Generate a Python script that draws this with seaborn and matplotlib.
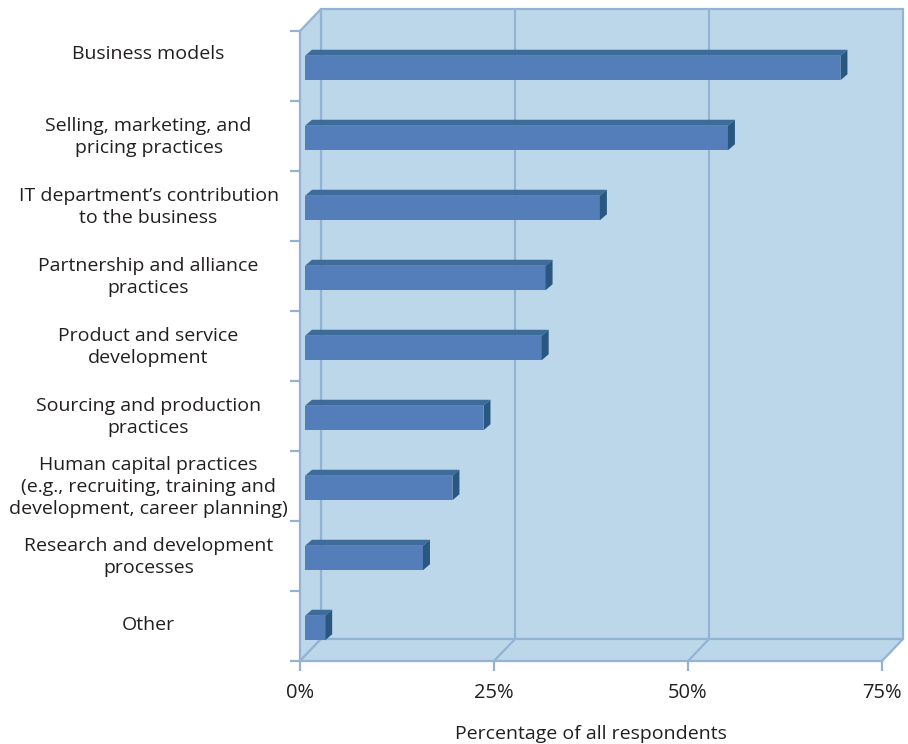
import matplotlib
matplotlib.use("Agg")
import matplotlib.pyplot as plt
import matplotlib.transforms as mtransforms
from matplotlib.patches import Polygon
from matplotlib.lines import Line2D
import seaborn as sns
import pandas as pd

categories = [
    "Business models",
    "Selling, marketing, and\npricing practices",
    "IT department\u2019s contribution\nto the business",
    "Partnership and alliance\npractices",
    "Product and service\ndevelopment",
    "Sourcing and production\npractices",
    "Human capital practices\n(e.g., recruiting, training and\ndevelopment, career planning)",
    "Research and development\nprocesses",
    "Other",
]
values = [69, 54.5, 38, 31, 30.5, 23, 19, 15.2, 2.6]
xticks = [0, 25, 50, 75]
xticklabels = ["0%", "25%", "50%", "75%"]
xlabel = "Percentage of all respondents"

WALL = "#bcd7e9"
EDGE = "#93b3d5"
FRONT = "#537eb9"
TOP = "#3e6c9a"
SIDE = "#2a577f"
TEXT = "#231f20"
FS = 14

sns.set_theme(style="white")
plt.rcParams["font.family"] = ["Open Sans", "DejaVu Sans"]

W, H = 908, 744
fig = plt.figure(figsize=(W / 100, H / 100), dpi=100)
L, R, T, B = 300, 882, 31, 661
ax = fig.add_axes([L / W, (H - B) / H, (R - L) / W, (B - T) / H])
ax.set_facecolor("none")

df = pd.DataFrame({"cat": categories, "val": values})
sns.barplot(data=df, x="val", y="cat", orient="h", color=FRONT, width=0.35,
            saturation=1, ax=ax, zorder=5)
ax.set_xlim(0, 75)
ax.set_ylim(len(categories) - 0.5, -0.5)


def off(dx, dy):
    return ax.transData + mtransforms.ScaledTranslation(dx / 100, dy / 100, fig.dpi_scale_trans)


DX, DY = 21, 22  # back wall offset in px
back = off(DX, DY)
y0, y1 = len(categories) - 0.5, -0.5
finv = fig.transFigure.inverted()


def poly(pts_tr, fc, ec, z):
    disp = [off(dx, dy).transform((x, y)) for x, y, dx, dy in pts_tr]
    fpts = [finv.transform(p) for p in disp]
    p = Polygon(fpts, closed=True, transform=fig.transFigure, facecolor=fc,
                edgecolor=ec, lw=1.6, zorder=z)
    fig.add_artist(p)
    return p

# back wall
poly([(0, y0, DX, DY), (75, y0, DX, DY), (75, y1, DX, DY), (0, y1, DX, DY)], WALL, EDGE, 0)
# left wall
poly([(0, y0, 0, 0), (0, y1, 0, 0), (0, y1, DX, DY), (0, y0, DX, DY)], WALL, EDGE, 0)
# floor
poly([(0, y0, 0, 0), (75, y0, 0, 0), (75, y0, DX, DY), (0, y0, DX, DY)], WALL, EDGE, 0)

# gridlines on back wall and floor
for xv in xticks[1:-1]:
    ax.add_line(Line2D([xv, xv], [y0, y1], transform=back, color=EDGE, lw=1.6,
                       zorder=1, clip_on=False))
    a = finv.transform(ax.transData.transform((xv, y0)))
    b = finv.transform(back.transform((xv, y0)))
    fig.add_artist(Line2D([a[0], b[0]], [a[1], b[1]], transform=fig.transFigure,
                          color=EDGE, lw=1.6, zorder=1))

ax.set_zorder(2)

# 3D bars
bdx, bdy = 7, 6
shift = mtransforms.ScaledTranslation(5 / 100, -2 / 100, fig.dpi_scale_trans)
depth = mtransforms.ScaledTranslation(bdx / 100, bdy / 100, fig.dpi_scale_trans)
ainv = ax.transAxes.inverted()
for patch in list(ax.patches):
    patch.set_transform(ax.transData + shift)
    patch.set_edgecolor("none")
    patch.set_clip_on(False)
    x0 = patch.get_x()
    w = patch.get_width()
    ytop = patch.get_y()
    ybot = ytop + patch.get_height()
    t0 = ax.transData + shift
    t1 = ax.transData + shift + depth
    tl = t0.transform((x0, ytop)); tr = t0.transform((x0 + w, ytop))
    tlb = t1.transform((x0, ytop)); trb = t1.transform((x0 + w, ytop))
    br = t0.transform((x0 + w, ybot)); brb = t1.transform((x0 + w, ybot))
    top = Polygon([ainv.transform(p) for p in (tl, tlb, trb, tr)], closed=True,
                  transform=ax.transAxes, facecolor=TOP, edgecolor="none", zorder=6,
                  clip_on=False)
    side = Polygon([ainv.transform(p) for p in (tr, trb, brb, br)], closed=True,
                   transform=ax.transAxes, facecolor=SIDE, edgecolor="none", zorder=6,
                   clip_on=False)
    ax.add_patch(top)
    ax.add_patch(side)

for s in ax.spines.values():
    s.set_visible(False)

# x ticks
ax.set_xticks(xticks)
ax.set_xticklabels(xticklabels)
ax.tick_params(axis="x", bottom=True, length=7, width=1.6, color=EDGE, pad=9,
               labelsize=FS + 0.5, labelcolor=TEXT)
ax.set_xlabel(xlabel, fontsize=FS, color=TEXT, labelpad=16)

# y ticks: category labels + boundary tick marks
ax.set_yticks(range(len(categories)))
ax.set_yticklabels(categories)
ax.tick_params(axis="y", left=False, length=0, pad=109, labelsize=FS, labelcolor=TEXT)
for i, lab in enumerate(ax.get_yticklabels()):
    lab.set_horizontalalignment("center")
    lab.set_multialignment("center")
    lab.set_linespacing(1.28)
    dy = -14 if i == 0 else -3
    lab.set_transform(lab.get_transform() +
                      mtransforms.ScaledTranslation(0, -dy / 100, fig.dpi_scale_trans))
ax.set_yticks([i - 0.5 for i in range(len(categories) + 1)], minor=True)
ax.tick_params(axis="y", which="minor", left=True, length=7, width=1.6, color=EDGE)
ax.set_ylabel("")

fig.savefig("out.png", dpi=100)
